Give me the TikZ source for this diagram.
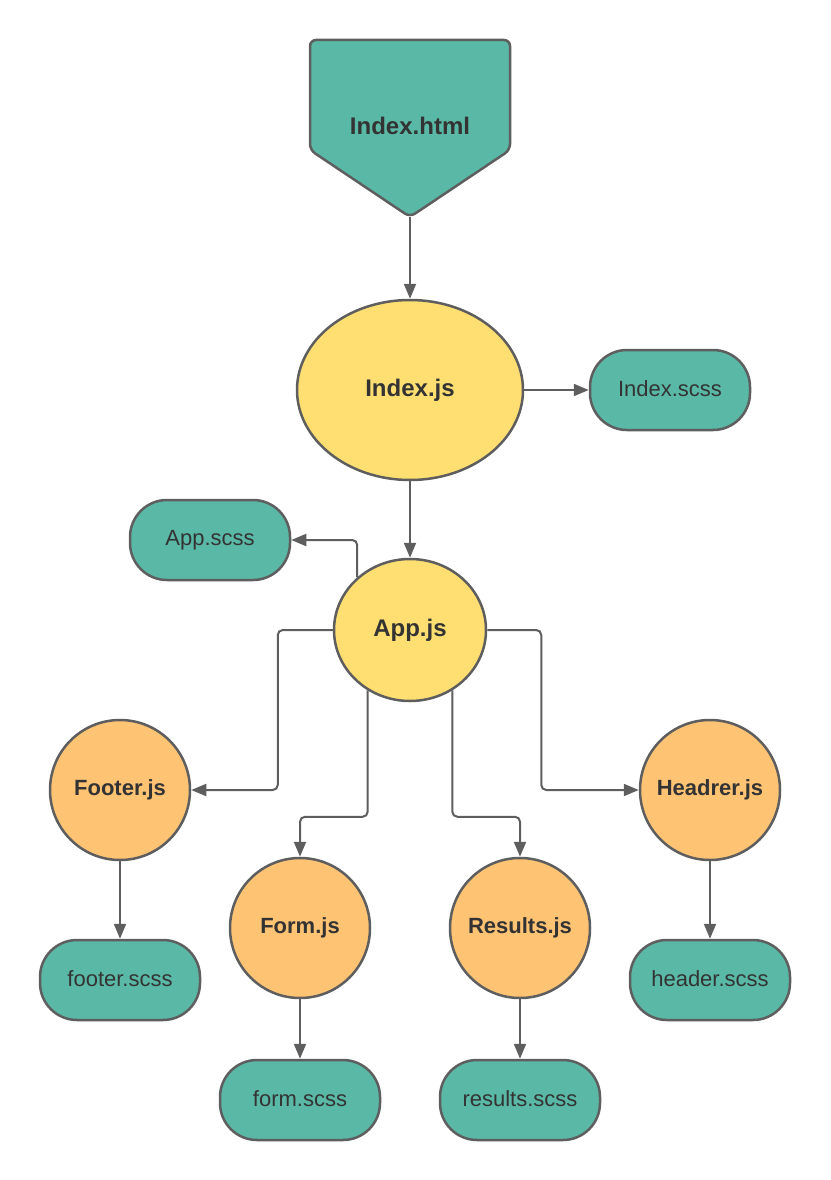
\documentclass[tikz,border=0pt]{standalone}
\usepackage{fontspec}
\setmainfont{Liberation Sans}
\usetikzlibrary{shapes.geometric,arrows.meta,calc}
\definecolor{teal1}{HTML}{5AB9A6}
\definecolor{yel}{HTML}{FFDF71}
\definecolor{org}{HTML}{FFC374}
\definecolor{strk}{HTML}{5E5E5E}
\definecolor{txt}{HTML}{333333}
\tikzset{
  base/.style={draw=strk, line width=2.5pt, text=txt, font=\fontsize{22}{26}\selectfont, inner sep=0pt},
  pill/.style={base, fill=teal1, rectangle, rounded corners=37pt, minimum width=160pt, minimum height=80pt},
  jsbold/.style={base, font=\fontsize{22}{26}\selectfont\bfseries},
  bigbold/.style={base, font=\fontsize{24}{28}\selectfont\bfseries},
  comp/.style={jsbold, circle, fill=org, minimum size=140pt},
  conn/.style={draw=strk, line width=2pt, rounded corners=5pt, -{Triangle[length=15pt,width=12pt]}},
}
\begin{document}
\begin{tikzpicture}[x=1pt,y=-1pt]
\useasboundingbox (0,0) rectangle (830,1180);
% Index.html
\draw[draw=strk, line width=2.5pt, fill=teal1, rounded corners=6pt]
  (310,40) -- (510,40) -- (510,150) -- (410,217) -- (310,150) -- cycle;
\node[text=txt, font=\fontsize{24}{28}\selectfont\bfseries] (html) at (410,126) {Index.html};
\coordinate (htmltip) at (410,217);
% main nodes
\node[bigbold, ellipse, fill=yel, minimum width=226pt, minimum height=180pt] (indexjs) at (410,390) {\raisebox{2pt}{Index.js}};
\node[pill] (indexscss) at (670,390) {\raisebox{2pt}{Index.scss}};
\node[bigbold, ellipse, fill=yel, minimum width=152pt, minimum height=142pt] (appjs) at (410,630) {\raisebox{2pt}{App.js}};
\node[pill] (appscss) at (210,540) {\raisebox{2pt}{App.scss}};
\node[comp] (footer) at (120,790) {\raisebox{2pt}{Footer.js}};
\node[comp] (header) at (710,790) {\raisebox{2pt}{Headrer.js}};
\node[comp] (form) at (300,928) {\raisebox{2pt}{Form.js}};
\node[comp] (results) at (520,928) {\raisebox{2pt}{Results.js}};
\node[pill] (footerscss) at (120,980) {\raisebox{2pt}{footer.scss}};
\node[pill] (headerscss) at (710,980) {\raisebox{2pt}{header.scss}};
\node[pill] (formscss) at (300,1100) {\raisebox{2pt}{form.scss}};
\node[pill] (resultsscss) at (520,1100) {\raisebox{2pt}{results.scss}};
% connectors
\draw[conn] (htmltip) -- (indexjs);
\draw[conn] (indexjs) -- (indexscss);
\draw[conn] (indexjs) -- (appjs);
\draw[conn] (appjs.135) |- (appscss.east);
\draw[conn] (appjs.west) -- ++(-55,0) |- (footer.east);
\draw[conn] (appjs.east) -- ++(54,0) |- (header.west);
\draw[conn] (appjs.-125) |- ($(form.north)+(0,-40)$) -- (form.north);
\draw[conn] (appjs.-55) |- ($(results.north)+(0,-40)$) -- (results.north);
\draw[conn] (footer) -- (footerscss);
\draw[conn] (header) -- (headerscss);
\draw[conn] (form) -- (formscss);
\draw[conn] (results) -- (resultsscss);
\end{tikzpicture}
\end{document}
